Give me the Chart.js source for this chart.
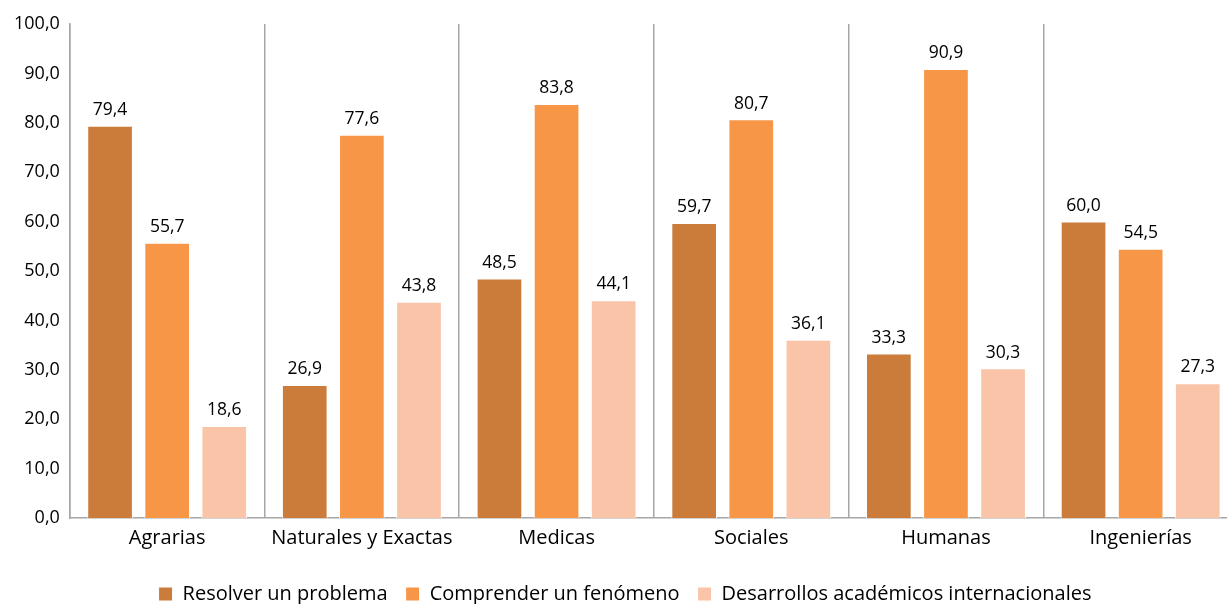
<!DOCTYPE html>
<html>
<head>
<meta charset="utf-8">
<script src="https://cdn.jsdelivr.net/npm/chart.js@4.4.1/dist/chart.umd.min.js"></script>
<style>
  html, body { margin: 0; padding: 0; background: #fff; overflow: hidden; }
  .chart-container { position: relative; width: 1240px; height: 614px; }
</style>
</head>
<body>
<div class="chart-container">
  <canvas id="chart"></canvas>
</div>
<script>
// categorias y series
const categories = ['Agrarias', 'Naturales y Exactas', 'Medicas', 'Sociales', 'Humanas', 'Ingenierías'];
const resolver = [79.4, 26.9, 48.5, 59.7, 33.3, 60.0];
const comprender = [55.7, 77.6, 83.8, 80.7, 90.9, 54.5];
const desarrollos = [18.6, 43.8, 44.1, 36.1, 30.3, 27.3];
const seriesNames = ['Resolver un problema', 'Comprender un fenómeno', 'Desarrollos académicos internacionales'];

const fmt = v => v.toFixed(1).replace('.', ',');
const FONT = '"Open Sans", Lato, sans-serif';

// etiquetas encima de cada barra
const valueLabels = {
    id: 'valueLabels',
    afterDatasetsDraw(chart) {
        const ctx = chart.ctx;
        ctx.save();
        ctx.font = '17.5px ' + FONT;
        ctx.fillStyle = '#000';
        ctx.textAlign = 'center';
        ctx.textBaseline = 'bottom';
        chart.data.datasets.forEach((ds, i) => {
            chart.getDatasetMeta(i).data.forEach((bar, j) => {
                ctx.fillText(fmt(ds.data[j]), bar.x, bar.y - 7);
            });
        });
        ctx.restore();
    }
};

const ctx = document.getElementById('chart').getContext('2d');
new Chart(ctx, {
    type: 'bar',
    data: {
        labels: categories,
        datasets: [
            { label: seriesNames[0], data: resolver, backgroundColor: '#CB7C3B' },
            { label: seriesNames[1], data: comprender, backgroundColor: '#F79646' },
            { label: seriesNames[2], data: desarrollos, backgroundColor: '#F9C4A7' }
        ]
    },
    options: {
        responsive: true,
        maintainAspectRatio: false,
        animation: false,
        datasets: {
            bar: {
                categoryPercentage: 0.88,
                barPercentage: 0.8,
                borderColor: '#fff',
                borderWidth: 1
            }
        },
        layout: { padding: { top: 24, left: 12, right: 2, bottom: 0 } },
        plugins: {
            legend: {
                position: 'bottom',
                labels: {
                    font: { family: FONT, size: 20 },
                    color: '#000',
                    boxWidth: 14,
                    boxHeight: 14,
                    padding: 18
                }
            },
            tooltip: { enabled: false }
        },
        scales: {
            x: {
                grid: { offset: true, color: '#A6A6A6', lineWidth: 1.5, drawTicks: false },
                border: { color: '#A6A6A6', width: 1.5 },
                ticks: { font: { family: FONT, size: 20 }, color: '#000', padding: 8 },
                afterFit(scale) { scale.height += 8; }
            },
            y: {
                min: 0,
                max: 100,
                grid: { display: false },
                border: { color: '#A6A6A6', width: 1.5 },
                ticks: {
                    stepSize: 10,
                    font: { family: FONT, size: 18 },
                    color: '#000',
                    padding: 2,
                    callback: v => fmt(v)
                }
            }
        }
    },
    plugins: [valueLabels]
});
</script>
</body>
</html>
